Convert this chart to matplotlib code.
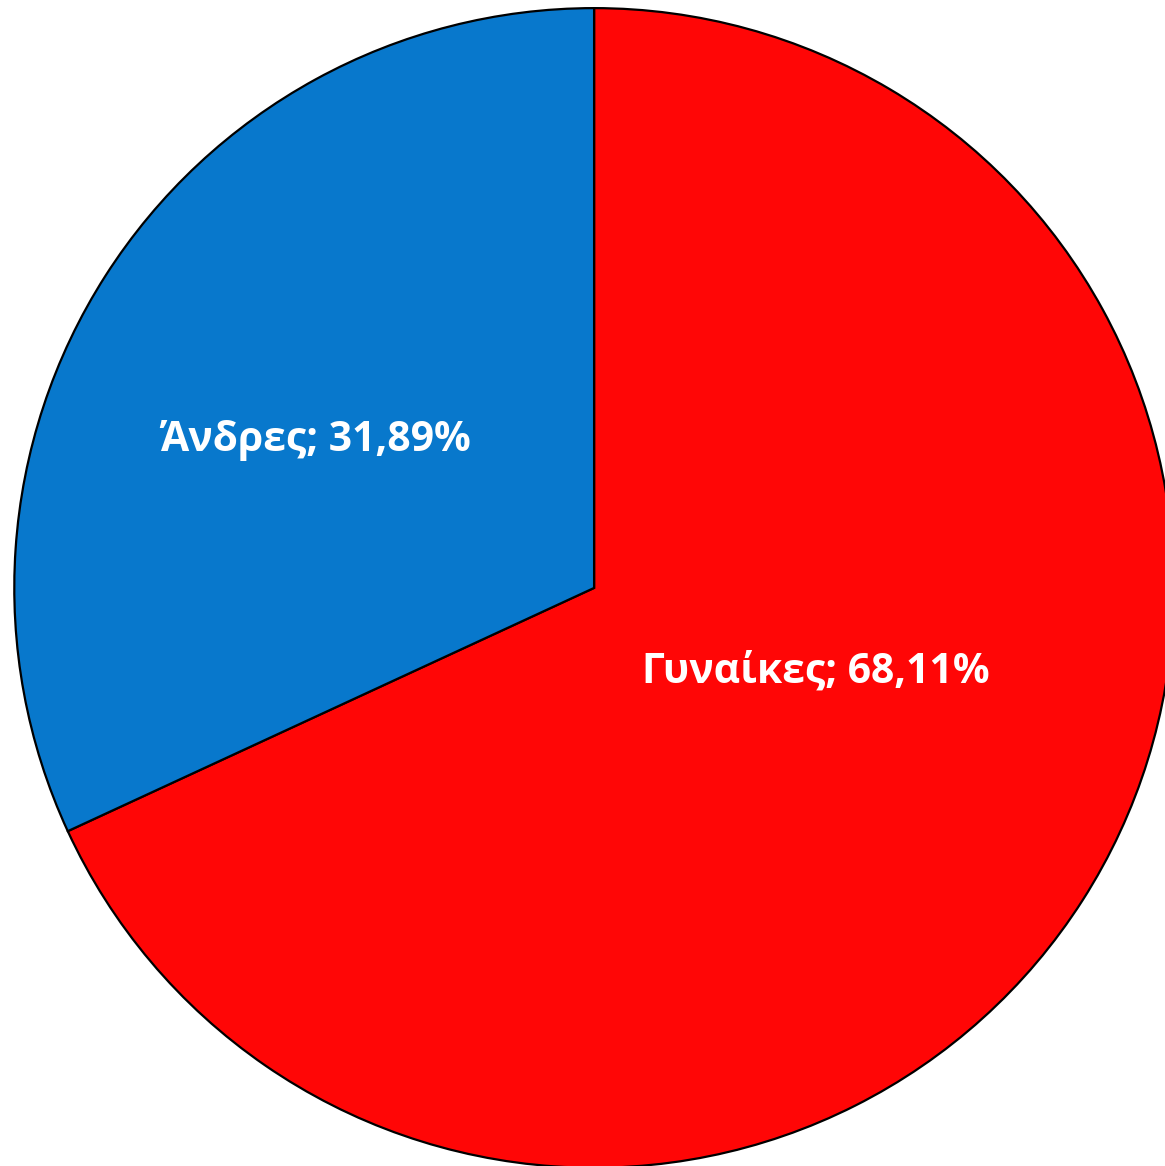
import matplotlib
matplotlib.use("Agg")
from matplotlib import pyplot as plt

labels = ["Γυναίκες", "Άνδρες"]
values = [68.11, 31.89]
colors = ["#FF0606", "#0878CC"]
label_pos = [(0.383, -0.145), (-0.481, 0.255)]

fig = plt.figure(figsize=(11.65, 11.66), dpi=100)
ax = fig.add_axes([0, 0, 1, 1])
ax.pie(values, colors=colors, startangle=90, counterclock=False,
       wedgeprops={"edgecolor": "black", "linewidth": 1.6})
ax.set_xlim(-1.024, 0.984)
ax.set_ylim(-0.997, 1.014)
ax.set_aspect("equal")
ax.axis("off")

for name, v, (x, y) in zip(labels, values, label_pos):
    txt = f"{name}; {v:.2f}%".replace(".", ",")
    ax.text(x, y, txt, ha="center", va="center", color="white",
            fontsize=29.4, fontweight="bold", family=["Open Sans", "DejaVu Sans"])

fig.savefig("out.png", dpi=100)
